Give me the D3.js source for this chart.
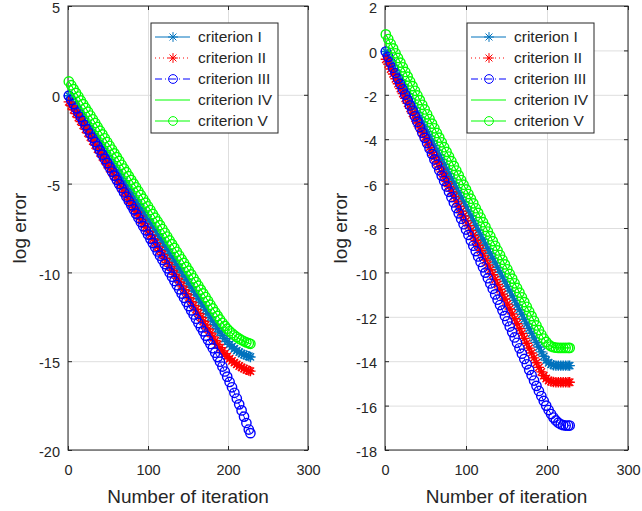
<!DOCTYPE html>
<html>
<head>
<meta charset="utf-8">
<script src="https://cdn.jsdelivr.net/npm/d3@7"></script>
<style>
  body { margin: 0; background: #fff; }
  svg { display: block; }
  text { font-family: "Liberation Sans", Arial, Helvetica, sans-serif; fill: #262626; }
</style>
</head>
<body>
<svg id="chart" width="642" height="511"></svg>
<script>
// iteration numbers where values were read (every 3rd iteration + last one)
var iterations = [1,4,7,10,13,16,19,22,25,28,31,34,37,40,43,46,49,52,55,58,
  61,64,67,70,73,76,79,82,85,88,91,94,97,100,103,106,109,112,115,118,
  121,124,127,130,133,136,139,142,145,148,151,154,157,160,163,166,169,172,175,178,
  181,184,187,190,193,196,199,202,205,208,211,214,217,220,223,226,228];

var seriesNames = ["criterion I", "criterion II", "criterion III", "criterion IV", "criterion V"];
var xTicks = [0, 100, 200, 300];
var leftYTicks = [-20, -15, -10, -5, 0, 5];
var rightYTicks = [-18, -16, -14, -12, -10, -8, -6, -4, -2, 0, 2];

// left panel
var leftI = [-0.05,-0.26,-0.47,-0.68,-0.90,-1.11,-1.32,-1.53,-1.74,-1.95,
  -2.17,-2.38,-2.59,-2.80,-3.01,-3.22,-3.43,-3.65,-3.86,-4.07,
  -4.28,-4.49,-4.70,-4.91,-5.13,-5.34,-5.55,-5.76,-5.97,-6.18,
  -6.40,-6.61,-6.82,-7.03,-7.24,-7.45,-7.66,-7.88,-8.09,-8.30,
  -8.51,-8.72,-8.93,-9.14,-9.36,-9.57,-9.78,-9.99,-10.20,-10.41,
  -10.63,-10.84,-11.05,-11.26,-11.47,-11.68,-11.89,-12.11,-12.32,-12.53,
  -12.74,-12.95,-13.16,-13.36,-13.55,-13.73,-13.90,-14.05,-14.18,-14.30,
  -14.40,-14.49,-14.57,-14.63,-14.68,-14.72,-14.76];
var leftII = [-0.40,-0.62,-0.84,-1.06,-1.28,-1.50,-1.72,-1.94,-2.16,-2.38,
  -2.61,-2.83,-3.05,-3.27,-3.49,-3.71,-3.93,-4.15,-4.37,-4.59,
  -4.81,-5.03,-5.25,-5.47,-5.69,-5.91,-6.13,-6.35,-6.57,-6.79,
  -7.02,-7.24,-7.46,-7.68,-7.90,-8.12,-8.34,-8.56,-8.78,-9.00,
  -9.22,-9.44,-9.66,-9.88,-10.10,-10.32,-10.54,-10.76,-10.98,-11.20,
  -11.43,-11.65,-11.87,-12.09,-12.31,-12.53,-12.75,-12.97,-13.19,-13.41,
  -13.63,-13.85,-14.05,-14.24,-14.42,-14.58,-14.73,-14.86,-14.98,-15.08,
  -15.18,-15.27,-15.35,-15.42,-15.48,-15.53,-15.56];
var leftIII = [-0.05,-0.29,-0.52,-0.76,-1.00,-1.24,-1.47,-1.71,-1.95,-2.18,
  -2.42,-2.66,-2.89,-3.13,-3.37,-3.61,-3.84,-4.08,-4.32,-4.55,
  -4.79,-5.03,-5.26,-5.50,-5.74,-5.98,-6.21,-6.45,-6.69,-6.92,
  -7.16,-7.40,-7.63,-7.87,-8.11,-8.35,-8.58,-8.82,-9.06,-9.29,
  -9.53,-9.77,-10.00,-10.24,-10.48,-10.72,-10.95,-11.19,-11.43,-11.66,
  -11.90,-12.14,-12.37,-12.61,-12.85,-13.09,-13.32,-13.56,-13.80,-14.03,
  -14.27,-14.52,-14.77,-15.03,-15.30,-15.58,-15.87,-16.17,-16.47,-16.78,
  -17.10,-17.43,-17.77,-18.12,-18.48,-18.85,-19.05];
var leftIV = [0.75,0.54,0.32,0.11,-0.10,-0.32,-0.53,-0.74,-0.95,-1.17,
  -1.38,-1.59,-1.81,-2.02,-2.23,-2.45,-2.66,-2.87,-3.08,-3.30,
  -3.51,-3.72,-3.94,-4.15,-4.36,-4.58,-4.79,-5.00,-5.21,-5.43,
  -5.64,-5.85,-6.07,-6.28,-6.49,-6.71,-6.92,-7.13,-7.34,-7.56,
  -7.77,-7.98,-8.20,-8.41,-8.62,-8.84,-9.05,-9.26,-9.47,-9.69,
  -9.90,-10.11,-10.33,-10.54,-10.75,-10.97,-11.18,-11.39,-11.60,-11.82,
  -12.03,-12.24,-12.45,-12.65,-12.84,-13.01,-13.17,-13.31,-13.43,-13.54,
  -13.64,-13.73,-13.81,-13.88,-13.94,-13.99,-14.02];
var leftV = [0.75,0.54,0.32,0.11,-0.10,-0.32,-0.53,-0.74,-0.95,-1.17,
  -1.38,-1.59,-1.81,-2.02,-2.23,-2.45,-2.66,-2.87,-3.08,-3.30,
  -3.51,-3.72,-3.94,-4.15,-4.36,-4.58,-4.79,-5.00,-5.21,-5.43,
  -5.64,-5.85,-6.07,-6.28,-6.49,-6.71,-6.92,-7.13,-7.34,-7.56,
  -7.77,-7.98,-8.20,-8.41,-8.62,-8.84,-9.05,-9.26,-9.47,-9.69,
  -9.90,-10.11,-10.33,-10.54,-10.75,-10.97,-11.18,-11.39,-11.60,-11.82,
  -12.03,-12.24,-12.45,-12.65,-12.84,-13.01,-13.17,-13.31,-13.43,-13.54,
  -13.64,-13.73,-13.81,-13.88,-13.94,-13.99,-14.02];

// right panel
var rightI = [-0.05,-0.26,-0.47,-0.68,-0.90,-1.11,-1.32,-1.53,-1.74,-1.95,
  -2.17,-2.38,-2.59,-2.80,-3.01,-3.22,-3.43,-3.65,-3.86,-4.07,
  -4.28,-4.49,-4.70,-4.91,-5.13,-5.34,-5.55,-5.76,-5.97,-6.18,
  -6.40,-6.61,-6.82,-7.03,-7.24,-7.45,-7.66,-7.88,-8.09,-8.30,
  -8.51,-8.72,-8.93,-9.14,-9.36,-9.57,-9.78,-9.99,-10.20,-10.41,
  -10.63,-10.84,-11.05,-11.26,-11.47,-11.68,-11.89,-12.11,-12.32,-12.53,
  -12.74,-12.95,-13.16,-13.36,-13.58,-13.78,-13.95,-14.07,-14.14,-14.18,
  -14.20,-14.20,-14.20,-14.20,-14.20,-14.20,-14.20];
var rightII = [-0.40,-0.62,-0.84,-1.06,-1.28,-1.50,-1.72,-1.94,-2.16,-2.38,
  -2.61,-2.83,-3.05,-3.27,-3.49,-3.71,-3.93,-4.15,-4.37,-4.59,
  -4.81,-5.03,-5.25,-5.47,-5.69,-5.91,-6.13,-6.35,-6.57,-6.79,
  -7.02,-7.24,-7.46,-7.68,-7.90,-8.12,-8.34,-8.56,-8.78,-9.00,
  -9.22,-9.44,-9.66,-9.88,-10.10,-10.32,-10.54,-10.76,-10.98,-11.20,
  -11.43,-11.65,-11.87,-12.09,-12.31,-12.53,-12.75,-12.97,-13.19,-13.41,
  -13.63,-13.85,-14.07,-14.28,-14.48,-14.65,-14.78,-14.87,-14.92,-14.94,
  -14.95,-14.95,-14.95,-14.95,-14.95,-14.95,-14.95];
var rightIII = [-0.05,-0.29,-0.54,-0.78,-1.02,-1.27,-1.51,-1.75,-1.99,-2.24,
  -2.48,-2.72,-2.97,-3.21,-3.45,-3.70,-3.94,-4.18,-4.42,-4.67,
  -4.91,-5.15,-5.40,-5.64,-5.88,-6.13,-6.37,-6.61,-6.85,-7.10,
  -7.34,-7.58,-7.83,-8.07,-8.31,-8.56,-8.80,-9.04,-9.28,-9.53,
  -9.77,-10.01,-10.26,-10.50,-10.74,-10.99,-11.23,-11.47,-11.71,-11.96,
  -12.20,-12.44,-12.69,-12.93,-13.17,-13.42,-13.66,-13.90,-14.14,-14.39,
  -14.63,-14.87,-15.11,-15.34,-15.57,-15.79,-16.00,-16.20,-16.38,-16.54,
  -16.67,-16.77,-16.84,-16.88,-16.90,-16.90,-16.90];
var rightIV = [0.72,0.51,0.30,0.09,-0.13,-0.34,-0.55,-0.76,-0.97,-1.18,
  -1.40,-1.61,-1.82,-2.03,-2.24,-2.45,-2.66,-2.88,-3.09,-3.30,
  -3.51,-3.72,-3.93,-4.14,-4.36,-4.57,-4.78,-4.99,-5.20,-5.41,
  -5.63,-5.84,-6.05,-6.26,-6.47,-6.68,-6.89,-7.11,-7.32,-7.53,
  -7.74,-7.95,-8.16,-8.37,-8.59,-8.80,-9.01,-9.22,-9.43,-9.64,
  -9.86,-10.07,-10.28,-10.49,-10.70,-10.91,-11.12,-11.34,-11.55,-11.76,
  -11.97,-12.18,-12.39,-12.60,-12.80,-12.98,-13.13,-13.25,-13.33,-13.37,
  -13.39,-13.40,-13.40,-13.40,-13.40,-13.40,-13.40];
var rightV = [0.72,0.51,0.30,0.09,-0.13,-0.34,-0.55,-0.76,-0.97,-1.18,
  -1.40,-1.61,-1.82,-2.03,-2.24,-2.45,-2.66,-2.88,-3.09,-3.30,
  -3.51,-3.72,-3.93,-4.14,-4.36,-4.57,-4.78,-4.99,-5.20,-5.41,
  -5.63,-5.84,-6.05,-6.26,-6.47,-6.68,-6.89,-7.11,-7.32,-7.53,
  -7.74,-7.95,-8.16,-8.37,-8.59,-8.80,-9.01,-9.22,-9.43,-9.64,
  -9.86,-10.07,-10.28,-10.49,-10.70,-10.91,-11.12,-11.34,-11.55,-11.76,
  -11.97,-12.18,-12.39,-12.60,-12.80,-12.98,-13.13,-13.25,-13.33,-13.37,
  -13.39,-13.40,-13.40,-13.40,-13.40,-13.40,-13.40];

// matlab style per series: color, dash, marker
var colors = ["#0072BD", "#FF0000", "#0000FF", "#00FF00", "#00FF00"];
var dashes = [null, "1,3", "7,3,1,3", null, null];
var markers = ["star", "star", "circle", null, "circle"];

var svg = d3.select("#chart");

var starPath = function(r) {
    var a = r * 0.7071;
    return "M" + (-r) + ",0L" + r + ",0M0," + (-r) + "L0," + r +
        "M" + (-a) + "," + (-a) + "L" + a + "," + a + "M" + (-a) + "," + a + "L" + a + "," + (-a);
};

//draw one marker into a group (sw = stroke width, k = size factor)
var drawMarker = function(g, type, cx, cy, color, k, sw) {
    if (type == "circle") {
        g.append("circle").attr("cx", cx).attr("cy", cy).attr("r", 4.4 * k)
            .attr("fill", "none").attr("stroke", color).attr("stroke-width", sw);
    }
    else if (type == "star") {
        g.append("path").attr("transform", "translate(" + cx + "," + cy + ")")
            .attr("d", starPath(4.9 * k))
            .attr("fill", "none").attr("stroke", color).attr("stroke-width", sw);
    }
};

var drawPanel = function(p) {
    var x = d3.scaleLinear().domain([0, 300]).range([p.x0, p.x1]);
    var y = d3.scaleLinear().domain(p.yDomain).range([p.y1, p.y0]);
    var g = svg.append("g");
    var h = p.y1 - p.y0, w = p.x1 - p.x0;

    // grid
    g.append("g").attr("transform", "translate(0," + p.y1 + ")")
        .call(d3.axisBottom(x).tickValues(xTicks).tickSize(-h).tickFormat(""))
        .call(function(s) { s.select(".domain").remove(); s.selectAll("line").attr("stroke", "#dedede"); });
    g.append("g").attr("transform", "translate(" + p.x0 + ",0)")
        .call(d3.axisLeft(y).tickValues(p.yTicks).tickSize(-w).tickFormat(""))
        .call(function(s) { s.select(".domain").remove(); s.selectAll("line").attr("stroke", "#dedede"); });

    // box
    g.append("rect").attr("x", p.x0).attr("y", p.y0).attr("width", w).attr("height", h)
        .attr("fill", "none").attr("stroke", "#262626").attr("stroke-width", 1);

    // ticks and labels
    var fmt = function(d) { return String(d); };
    var bottom = g.append("g").attr("transform", "translate(0," + p.y1 + ")")
        .call(d3.axisBottom(x).tickValues(xTicks).tickSize(-4).tickPadding(15).tickFormat(fmt));
    var left = g.append("g").attr("transform", "translate(" + p.x0 + ",0)")
        .call(d3.axisLeft(y).tickValues(p.yTicks).tickSize(-4).tickPadding(8).tickFormat(fmt));
    var top = g.append("g").attr("transform", "translate(0," + p.y0 + ")")
        .call(d3.axisTop(x).tickValues(xTicks).tickSize(-4).tickFormat(""));
    var right = g.append("g").attr("transform", "translate(" + p.x1 + ",0)")
        .call(d3.axisRight(y).tickValues(p.yTicks).tickSize(-4).tickFormat(""));
    [bottom, left, top, right].forEach(function(a) {
        a.select(".domain").remove();
        a.selectAll("line").attr("stroke", "#262626");
        a.selectAll("text").attr("font-size", "14.5px").attr("fill", "#262626")
            .attr("font-family", "Liberation Sans, Arial, sans-serif");
    });
    left.selectAll("text").attr("y", 2);

    // axis labels
    g.append("text").attr("x", (p.x0 + p.x1) / 2).attr("y", 503)
        .attr("text-anchor", "middle").attr("font-size", "19px").text("Number of iteration");
    g.append("text").attr("transform", "translate(" + p.labelX + "," + ((p.y0 + p.y1) / 2) + ") rotate(-90)")
        .attr("text-anchor", "middle").attr("font-size", "19px").text("log error");

    // series, drawn in order so criterion V ends on top
    p.series.forEach(function(vals, i) {
        var pts = iterations.map(function(it, j) { return [x(it), y(vals[j])]; });
        var sg = g.append("g");
        sg.append("path").datum(pts)
            .attr("d", d3.line())
            .attr("fill", "none").attr("stroke", colors[i]).attr("stroke-width", 1)
            .attr("stroke-dasharray", dashes[i]);
        if (markers[i]) {
            pts.forEach(function(pt) { drawMarker(sg, markers[i], pt[0], pt[1], colors[i], 1.06, 1.4); });
        }
    });

    // legend
    var lg = g.append("g");
    lg.append("rect").attr("x", p.legendX).attr("y", 23).attr("width", 127).attr("height", 110)
        .attr("fill", "#fff").attr("stroke", "#262626").attr("stroke-width", 1);
    seriesNames.forEach(function(name, i) {
        var cy = 37 + i * 21;
        lg.append("line").attr("x1", p.legendX + 4).attr("x2", p.legendX + 39)
            .attr("y1", cy).attr("y2", cy)
            .attr("stroke", colors[i]).attr("stroke-width", 1).attr("stroke-dasharray", dashes[i]);
        if (markers[i]) drawMarker(lg, markers[i], p.legendX + 22, cy, colors[i], 1, 1);
        lg.append("text").attr("x", p.legendX + 47).attr("y", cy).attr("dy", "0.35em")
            .attr("font-size", "15.5px").text(name);
    });
};

drawPanel({x0: 68, x1: 308, y0: 6, y1: 450, yDomain: [-20, 5], yTicks: leftYTicks,
    labelX: 26, legendX: 151, series: [leftI, leftII, leftIII, leftIV, leftV]});
drawPanel({x0: 385, x1: 628, y0: 6, y1: 450, yDomain: [-18, 2], yTicks: rightYTicks,
    labelX: 347, legendX: 467, series: [rightI, rightII, rightIII, rightIV, rightV]});
</script>
</body>
</html>
